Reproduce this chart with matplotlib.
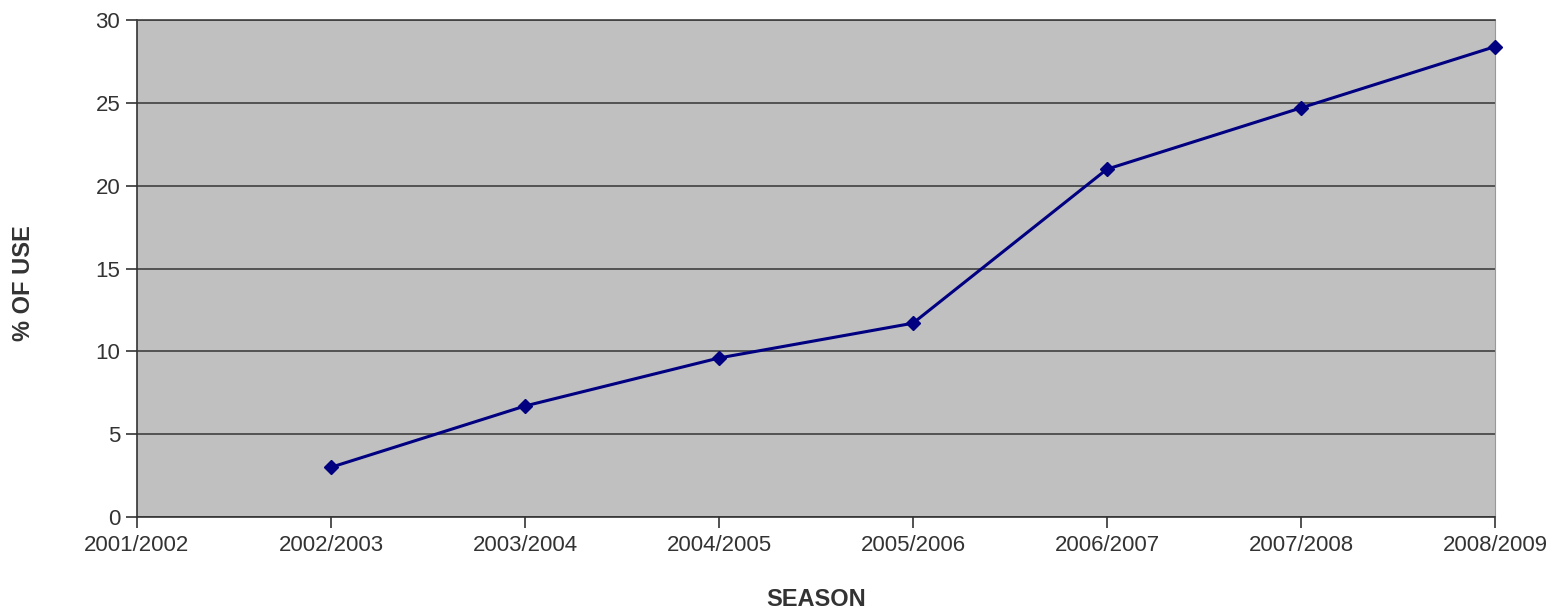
import matplotlib
matplotlib.use("Agg")
import matplotlib.pyplot as plt

# season labels and % of use (first season has no value)
seasons = ["2001/2002", "2002/2003", "2003/2004", "2004/2005",
           "2005/2006", "2006/2007", "2007/2008", "2008/2009"]
data_seasons = seasons[1:]
pct_use = [3.0, 6.7, 9.6, 11.7, 21.0, 24.7, 28.4]

plt.rcParams["font.family"] = ["Liberation Sans", "DejaVu Sans"]

fig = plt.figure(figsize=(15.6, 6.1), dpi=100)
ax = fig.add_axes([0.0878, 0.1525, 0.8705, 0.8145])
ax.set_facecolor("#c0c0c0")

x_all = list(range(len(seasons)))
x_data = [seasons.index(s) for s in data_seasons]

ax.yaxis.grid(True, color="#404040", linewidth=1.2)
ax.set_axisbelow(True)
ax.plot(x_data, pct_use, color="#000080", linewidth=2.2, marker="D",
        markersize=7, zorder=3, clip_on=False)

ax.set_xlim(0, len(seasons) - 1)
ax.set_ylim(0, 30)
ax.set_xticks(x_all)
ax.set_xticklabels(seasons)
ax.set_yticks(range(0, 31, 5))

ax.tick_params(axis="both", labelsize=16, colors="#333333", length=8,
               width=1.2, direction="out")
ax.tick_params(axis="x", pad=5)
ax.tick_params(axis="y", pad=4)

for side in ("left", "bottom"):
    ax.spines[side].set_color("#333333")
    ax.spines[side].set_linewidth(1.2)
ax.spines["right"].set_color("#999999")
ax.spines["top"].set_color("#404040")
ax.spines["top"].set_linewidth(1.2)

ax.set_xlabel("SEASON", fontsize=17, fontweight="bold", color="#333333")
ax.xaxis.set_label_coords(0.5, -0.142)
ax.set_ylabel("% OF USE", fontsize=17, fontweight="bold", color="#333333")
ax.yaxis.set_label_coords(-0.075, 0.47)

fig.savefig("out.png", dpi=100, facecolor="white")
